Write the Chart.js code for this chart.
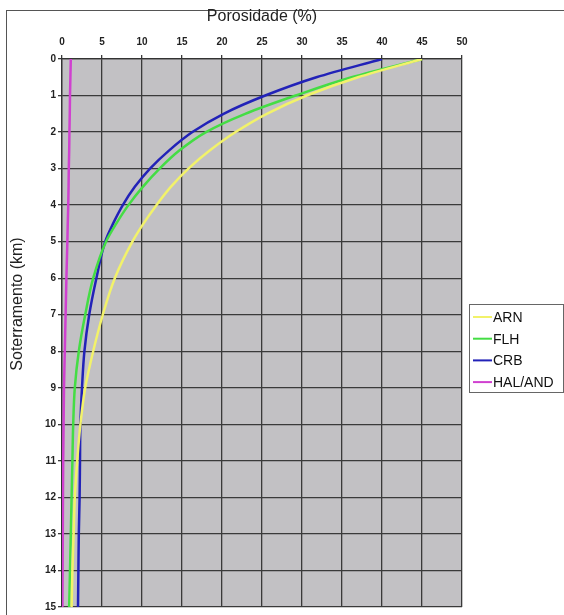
<!DOCTYPE html>
<html>
<head>
<meta charset="utf-8">
<script src="https://cdn.jsdelivr.net/npm/chart.js@4/dist/chart.umd.min.js"></script>
<style>
  html, body { margin: 0; padding: 0; background: #fff; }
  #wrap { width: 564px; height: 615px; position: relative; }
</style>
</head>
<body>
<div id="wrap"><canvas id="chart"></canvas></div>
<script>
// profundidade (km)
const depth = [0, 0.5, 1, 1.5, 2, 2.5, 3, 3.5, 4, 4.5, 5, 6, 7, 8, 9, 10, 11, 12, 13, 14, 15];

// porosidade (%) por litologia
const arn    = [45, 37.0, 30.6, 25.6, 21.7, 18.5, 15.8, 13.6, 11.8, 10.2, 8.8, 6.6, 5.1, 3.9, 2.9, 2.3, 1.9, 1.6, 1.45, 1.3, 1.2];
const flh    = [45, 36.2, 29.2, 22.9, 18.0, 14.7, 12.2, 10.1, 8.3, 6.8, 5.5, 3.9, 2.9, 2.1, 1.6, 1.4, 1.3, 1.2, 1.1, 1.0, 0.9];
const crb    = [40, 31.8, 25.4, 20.2, 16.3, 13.4, 11.0, 9.1, 7.6, 6.4, 5.4, 4.3, 3.4, 2.8, 2.5, 2.3, 2.25, 2.2, 2.1, 2.05, 2.0];
const halAnd = [1.1, 1.05, 1.0, 0.97, 0.93, 0.9, 0.85, 0.82, 0.78, 0.72, 0.67, 0.55, 0.45, 0.35, 0.25, 0.2, 0.15, 0.12, 0.1, 0.08, 0.05];

const labels = ['ARN', 'FLH', 'CRB', 'HAL/AND'];
const colors = ['#f2f26a', '#44dd44', '#2222b8', '#d040d0'];
const series = [arn, flh, crb, halAnd];

const xTicks = [0, 5, 10, 15, 20, 25, 30, 35, 40, 45, 50];

function toPoints(values) {
  return values.map((v, i) => ({ x: v, y: depth[i] }));
}

const FONT = "'Liberation Sans', Arial, sans-serif";

// moldura, fundo cinza, titulo vertical e legenda
const extras = {
  id: 'extras',
  beforeDraw(chart) {
    const ctx = chart.ctx;
    const a = chart.chartArea;
    ctx.save();
    ctx.fillStyle = '#fff';
    ctx.fillRect(0, 0, chart.width, chart.height);
    ctx.strokeStyle = '#555';
    ctx.lineWidth = 1;
    ctx.strokeRect(6.5, 10.5, 700, 800);
    ctx.fillStyle = '#c2c1c4';
    ctx.fillRect(a.left, a.top, a.right - a.left, a.bottom - a.top);
    ctx.restore();
  },
  afterDraw(chart) {
    const ctx = chart.ctx;
    ctx.save();
    // titulo do eixo y
    ctx.translate(18, 304);
    ctx.rotate(-Math.PI / 2);
    ctx.fillStyle = '#222';
    ctx.font = '16px ' + FONT;
    ctx.textAlign = 'center';
    ctx.textBaseline = 'middle';
    ctx.fillText('Soterramento (km)', 0, 0);
    ctx.restore();

    // legenda
    ctx.save();
    ctx.fillStyle = '#fff';
    ctx.fillRect(469.5, 304.5, 94, 88);
    ctx.strokeStyle = '#666';
    ctx.lineWidth = 1;
    ctx.strokeRect(469.5, 304.5, 94, 88);
    ctx.font = '14px ' + FONT;
    ctx.textBaseline = 'middle';
    chart.data.datasets.forEach((ds, i) => {
      const y = 317 + i * 21.7;
      ctx.strokeStyle = ds.borderColor;
      ctx.lineWidth = 2;
      ctx.beginPath();
      ctx.moveTo(473, y);
      ctx.lineTo(492, y);
      ctx.stroke();
      ctx.fillStyle = '#111';
      ctx.fillText(ds.label, 493, y + 1);
    });
    ctx.restore();
  }
};

new Chart(document.getElementById('chart'), {
  type: 'scatter',
  data: {
    datasets: series.map((s, i) => ({
      label: labels[i],
      data: toPoints(s),
      borderColor: colors[i],
      backgroundColor: colors[i],
      showLine: true,
      borderWidth: 2.5,
      pointRadius: 0,
      indexAxis: 'y',
      cubicInterpolationMode: 'monotone'
    }))
  },
  options: {
    responsive: true,
    maintainAspectRatio: false,
    animation: false,
    layout: { padding: { left: 0, top: 0, right: 102, bottom: 2 } },
    plugins: {
      legend: { display: false },
      tooltip: { enabled: false }
    },
    scales: {
      x: {
        type: 'linear',
        position: 'top',
        min: 0,
        max: 50,
        afterBuildTicks: (scale) => { scale.ticks = xTicks.map(v => ({ value: v })); },
        afterFit: (scale) => { scale.height = 59; },
        grid: { color: '#3a3a3a', lineWidth: 1.3, tickLength: 4, tickColor: '#3a3a3a' },
        border: { color: '#333', width: 1.3 },
        ticks: {
          padding: 7,
          color: '#222',
          font: { family: FONT, size: 10, weight: 'bold' }
        },
        title: {
          display: true,
          text: 'Porosidade (%)',
          color: '#222',
          padding: { top: 7, bottom: 0 },
          font: { family: FONT, size: 16 }
        }
      },
      y: {
        type: 'linear',
        reverse: true,
        min: 0,
        max: 15,
        afterFit: (scale) => { scale.width = 62; },
        grid: { color: '#3a3a3a', lineWidth: 1.3, tickLength: 4, tickColor: '#3a3a3a' },
        border: { color: '#333', width: 1.3 },
        ticks: {
          stepSize: 1,
          padding: 2,
          color: '#222',
          font: { family: FONT, size: 10, weight: 'bold' }
        }
      }
    }
  },
  plugins: [extras]
});
</script>
</body>
</html>
